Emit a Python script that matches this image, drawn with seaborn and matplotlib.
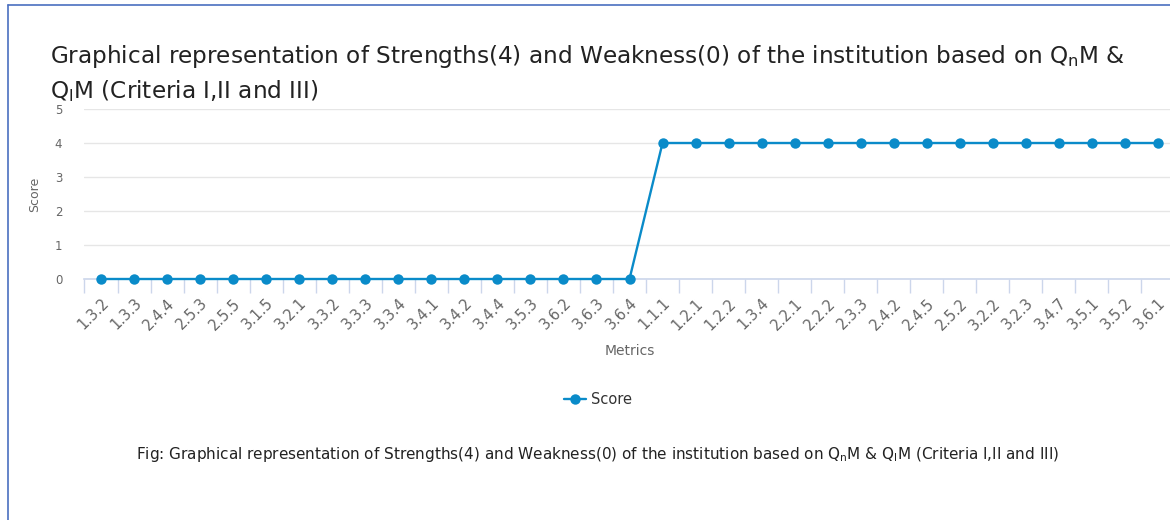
import numpy as np
import pandas as pd
import seaborn as sns
import matplotlib.pyplot as plt
from matplotlib.lines import Line2D

# data
metrics_weak = ['1.3.2', '1.3.3', '2.4.4', '2.5.3', '2.5.5', '3.1.5', '3.2.1', '3.3.2', '3.3.3',
                '3.3.4', '3.4.1', '3.4.2', '3.4.4', '3.5.3', '3.6.2', '3.6.3', '3.6.4']
metrics_strong = ['1.1.1', '1.2.1', '1.2.2', '1.3.4', '2.2.1', '2.2.2', '2.3.3', '2.4.2', '2.4.5',
                  '2.5.2', '3.2.2', '3.2.3', '3.4.7', '3.5.1', '3.5.2', '3.6.1']
scores_weak = [0] * len(metrics_weak)
scores_strong = [4] * len(metrics_strong)
y_ticks = [0, 1, 2, 3, 4, 5]

df = pd.DataFrame({'Metrics': metrics_weak + metrics_strong,
                   'Score': scores_weak + scores_strong})

LINE_COLOR = '#0a8bc9'
GRID_COLOR = '#e6e6e6'
AXIS_COLOR = '#ccd6eb'
TEXT_COLOR = '#666666'

sns.set_style('white')
plt.rcParams['font.family'] = ['DejaVu Sans']

fig = plt.figure(figsize=(11.7, 5.2), dpi=100)
ax = fig.add_axes([84.5 / 1170, (520 - 279) / 520, 1090 / 1170, 170 / 520])

sns.lineplot(data=df, x='Metrics', y='Score', sort=False, ax=ax, color=LINE_COLOR,
             marker='o', markersize=7.5, markeredgewidth=0, linewidth=1.7, label='Score')
for ln in ax.lines:
    ln.set_clip_on(False)
    ln.set_zorder(5)

n = len(df)
ax.set_xlim(-0.5, n - 0.5)
ax.set_ylim(0, 5)
ax.set_yticks(y_ticks)
ax.yaxis.grid(True, color=GRID_COLOR, linewidth=1)
ax.set_axisbelow(True)
for s in ['top', 'right', 'left']:
    ax.spines[s].set_visible(False)
ax.spines['bottom'].set_color(AXIS_COLOR)
ax.spines['bottom'].set_linewidth(1.2)

# ticks between categories, labels at category centres
ax.set_xticks(np.arange(n))
ax.set_xticklabels(df['Metrics'], rotation=45, ha='right', rotation_mode='anchor',
                   fontsize=10.5, color=TEXT_COLOR)
ax.set_xticks(np.arange(n + 1) - 0.5, minor=True)
ax.tick_params(axis='x', which='major', bottom=True, length=0, pad=12)
ax.tick_params(axis='x', which='minor', bottom=True, length=10, color=AXIS_COLOR, width=1)
ax.tick_params(axis='y', length=0, labelsize=8.5, labelcolor=TEXT_COLOR, pad=16)

ax.set_xlabel('Metrics', fontsize=10, color=TEXT_COLOR, labelpad=8)
ax.set_ylabel('Score', fontsize=9, color=TEXT_COLOR, labelpad=10)

ax.legend_.remove()
fig.legend(handles=[Line2D([0], [0], color=LINE_COLOR, marker='o', markersize=7.5,
                           markeredgewidth=0, linewidth=1.7)],
           labels=['Score'], loc='center', bbox_to_anchor=(598 / 1170, (520 - 400) / 520),
           frameon=False, fontsize=10.5, handlelength=1.5, handletextpad=0.4,
           labelcolor='#333333')

fig.text(50 / 1170, (520 - 56) / 520,
         r'Graphical representation of Strengths(4) and Weakness(0) of the institution based on Q$_\mathregular{n}$M &',
         fontsize=16.7, color='#222222', ha='left', va='center')
fig.text(50 / 1170, (520 - 91) / 520, r'Q$_\mathregular{l}$M (Criteria I,II and III)',
         fontsize=16.7, color='#222222', ha='left', va='center')

fig.text(598 / 1170, (520 - 455) / 520,
         r'Fig: Graphical representation of Strengths(4) and Weakness(0) of the institution based on Q$_\mathregular{n}$M & Q$_\mathregular{l}$M (Criteria I,II and III)',
         fontsize=11, color='#222222', ha='center', va='center')

# blue frame edges
fig.add_artist(Line2D([8 / 1170, 8 / 1170], [0, (520 - 5) / 520], transform=fig.transFigure,
                      color='#4a6fc0', linewidth=1.2))
fig.add_artist(Line2D([8 / 1170, 1], [(520 - 5) / 520, (520 - 5) / 520], transform=fig.transFigure,
                      color='#4a6fc0', linewidth=1.2))

fig.savefig('out.png', dpi=100, facecolor='white')
